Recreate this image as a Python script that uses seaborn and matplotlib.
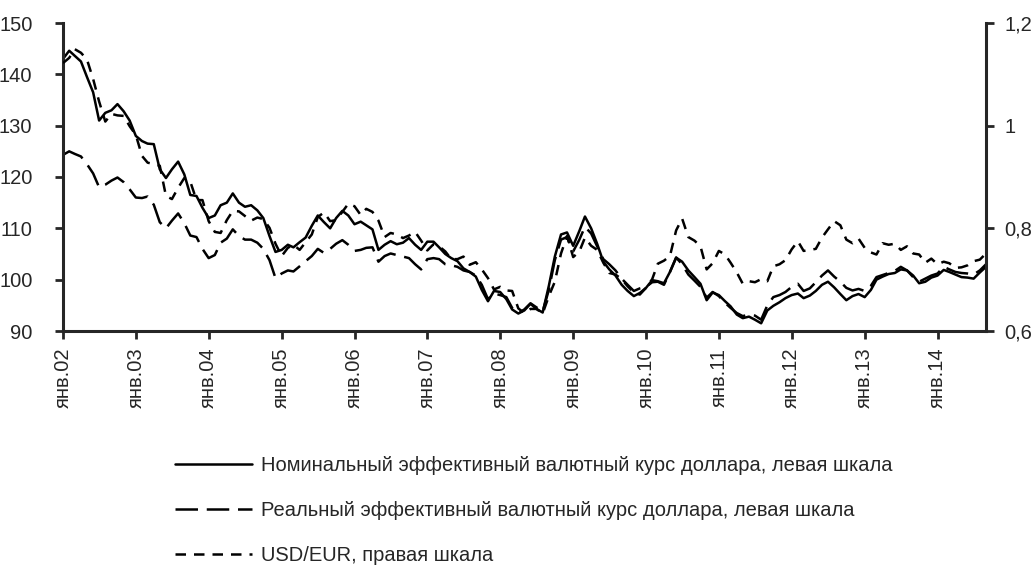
import pandas as pd
import matplotlib
matplotlib.use("Agg")
import matplotlib.pyplot as plt
import seaborn as sns

# monthly points (first point sits on the "янв.02" tick)
months = pd.date_range("2002-01-01", periods=153, freq="MS")

nominal = [
    143.0, 144.6, 143.6, 142.5, 139.5, 136.5, 131.0, 132.5, 133.0, 134.2, 132.8, 131.0,
    128.0, 127.0, 126.5, 126.4, 121.5, 119.8, 121.5, 123.0, 120.5, 116.5, 116.3, 114.0,
    112.0, 112.5, 114.5, 115.0, 116.8, 115.0, 114.2, 114.5, 113.5, 112.0, 108.5, 105.4,
    105.8, 106.8, 106.3, 107.3, 108.2, 110.5, 112.5, 111.2, 110.0, 112.0, 113.4, 112.5,
    110.8, 111.3, 110.6, 109.8, 105.8, 106.8, 107.5, 106.9, 107.2, 108.1, 106.8, 105.8,
    107.4, 107.4, 106.3, 105.0, 104.2, 103.6, 102.2, 101.5, 100.6, 98.0, 95.8, 97.8,
    97.6, 96.2, 94.2, 93.4, 94.0, 95.3, 94.3, 93.6, 98.8, 104.5, 108.8, 109.2,
    106.6, 109.5, 112.3, 110.0, 107.0, 103.5, 102.0, 100.8, 99.0, 97.8, 96.8, 97.4,
    98.4, 99.9, 99.7, 99.3, 101.5, 104.3, 103.5, 101.8, 100.5, 99.2, 96.0, 97.5,
    97.0, 95.8, 94.8, 93.2, 92.5, 92.8, 92.2, 91.5, 94.0, 94.9, 95.6, 96.4,
    97.0, 97.3, 96.4, 96.9, 97.8, 99.0, 99.6, 98.5, 97.2, 96.0, 96.8, 97.2,
    96.6, 98.0, 100.0, 100.6, 101.1, 101.3, 102.0, 101.8, 100.8, 99.3, 99.6, 100.4,
    100.8, 101.9, 101.5, 101.0, 100.5, 100.4, 100.2, 101.4, 102.5,
]

real = [
    124.3, 125.0, 124.5, 124.0, 122.5, 120.7, 118.0, 118.5, 119.3, 119.9, 119.0, 117.6,
    116.0, 115.9, 116.2, 114.6, 111.2, 110.0, 111.5, 112.9, 111.0, 108.6, 108.3, 106.0,
    104.2, 104.8, 107.2, 108.0, 109.8, 108.5, 107.8, 107.8, 107.2, 106.0, 103.8, 100.3,
    101.2, 101.8, 101.6, 102.6, 103.6, 104.6, 106.0, 105.2, 106.0, 107.0, 107.7, 106.8,
    105.6, 105.8, 106.2, 106.3, 103.5, 104.6, 105.1, 104.8, 104.5, 104.2, 103.0, 102.0,
    104.0, 104.2, 104.0, 103.0, 102.8, 102.5, 101.8, 101.5, 100.8, 99.0, 96.2, 97.3,
    97.0, 96.6, 94.5, 93.5, 94.2, 95.4, 94.6, 93.8, 98.0, 103.8, 107.8, 108.3,
    105.5, 107.8, 110.3, 109.0, 106.5, 104.0, 103.0, 101.8, 100.2, 99.0, 97.8, 98.3,
    98.6, 99.5, 99.6, 99.0, 101.5, 104.3, 103.0, 101.0, 99.8, 98.6, 96.5, 97.6,
    96.8, 95.5, 94.5, 93.5, 92.9, 93.2, 93.0, 92.2, 95.0, 96.6, 97.0, 97.6,
    98.6, 99.2, 97.8, 98.3, 99.5, 100.8, 101.8, 100.6, 99.6, 98.4, 97.9, 98.2,
    97.8, 98.8, 100.5, 100.9, 101.3, 101.7, 102.5, 101.8, 100.5, 99.6, 100.2, 100.8,
    101.2, 102.5, 102.0, 101.5, 101.3, 101.2, 101.0, 101.8, 103.0,
]

usd_eur = [
    1.122, 1.132, 1.149, 1.142, 1.129, 1.091, 1.047, 1.008, 1.023, 1.020, 1.019, 0.999,
    0.982, 0.941, 0.928, 0.925, 0.922, 0.863, 0.857, 0.879, 0.898, 0.891, 0.855, 0.855,
    0.814, 0.793, 0.791, 0.816, 0.834, 0.833, 0.824, 0.815, 0.821, 0.818, 0.801, 0.770,
    0.746, 0.762, 0.768, 0.758, 0.773, 0.788, 0.822, 0.831, 0.814, 0.816, 0.832, 0.848,
    0.843, 0.826, 0.838, 0.832, 0.815, 0.783, 0.791, 0.788, 0.781, 0.786, 0.793, 0.776,
    0.757, 0.769, 0.765, 0.755, 0.740, 0.740, 0.745, 0.729, 0.734, 0.720, 0.703, 0.681,
    0.686, 0.679, 0.678, 0.644, 0.635, 0.643, 0.643, 0.634, 0.668, 0.696, 0.751, 0.785,
    0.744, 0.755, 0.782, 0.766, 0.758, 0.733, 0.713, 0.710, 0.701, 0.687, 0.675, 0.671,
    0.684, 0.701, 0.731, 0.737, 0.746, 0.796, 0.819, 0.783, 0.776, 0.765, 0.720, 0.732,
    0.756, 0.749, 0.733, 0.714, 0.692, 0.697, 0.695, 0.701, 0.697, 0.726, 0.730, 0.738,
    0.759, 0.775, 0.756, 0.758, 0.760, 0.782, 0.798, 0.814, 0.806, 0.778, 0.771, 0.780,
    0.762, 0.753, 0.749, 0.771, 0.768, 0.770, 0.758, 0.765, 0.751, 0.749, 0.733, 0.741,
    0.730, 0.735, 0.732, 0.723, 0.724, 0.728, 0.736, 0.739, 0.751,
]

tick_dates = pd.date_range("2002-01-01", "2014-01-01", freq="YS")
tick_labels = ["янв.02", "янв.03", "янв.04", "янв.05", "янв.06", "янв.07", "янв.08",
               "янв.09", "янв.10", "янв.11", "янв.12", "янв.13", "янв.14"]
left_ticks = [90, 100, 110, 120, 130, 140, 150]
right_ticks = [0.6, 0.8, 1.0, 1.2]
right_labels = ["0,6", "0,8", "1", "1,2"]

names = [
    "Номинальный эффективный валютный курс доллара, левая шкала",
    "Реальный эффективный валютный курс доллара, левая шкала",
    "USD/EUR, правая шкала",
]

sns.set_style("ticks")
plt.rcParams["font.family"] = ["Liberation Sans Narrow", "Liberation Sans", "DejaVu Sans"]

W, H = 1035, 569
fig = plt.figure(figsize=(W / 100, H / 100), dpi=100)
ax = fig.add_axes([63 / W, 1 - 331 / H, (986 - 63) / W, (331 - 23) / H])
ax2 = ax.twinx()

lw = 1.8
sns.lineplot(x=months, y=nominal, ax=ax, color="black", linewidth=lw, legend=False)
sns.lineplot(x=months, y=real, ax=ax, color="black", linewidth=lw, legend=False)
sns.lineplot(x=months, y=usd_eur, ax=ax2, color="black", linewidth=lw, legend=False)
line_nom, line_real = ax.lines[0], ax.lines[1]
line_usd = ax2.lines[0]
line_real.set_dashes((9, 3.5))
line_usd.set_dashes((4.2, 3.2))

ax.set_xlim(months[0], months[-1])
ax.set_ylim(90, 150)
ax.set_yticks(left_ticks)
ax.set_xticks(tick_dates)
ax.set_xticklabels(tick_labels, rotation=90)
ax2.set_ylim(0.6, 1.2)
ax2.set_yticks(right_ticks)
ax2.set_yticklabels(right_labels)
ax.set_xlabel("")
ax.set_ylabel("")

for a in (ax, ax2):
    for s in a.spines.values():
        s.set_linewidth(2.2)
    a.spines["top"].set_visible(False)
    a.tick_params(direction="out", length=6, width=2, labelsize=14.5)
ax.tick_params(axis="y", pad=16)
ax.tick_params(axis="x", pad=6)
ax2.tick_params(axis="y", pad=7)
ax.spines["right"].set_visible(False)
ax2.spines["left"].set_visible(False)
ax2.spines["bottom"].set_visible(False)

fig.legend([line_nom, line_real, line_usd], names, loc="upper left",
           bbox_to_anchor=(175 / W, 1 - 456 / H),
           frameon=False, fontsize=14.5, handlelength=3.8, handletextpad=0.45,
           labelspacing=1.3, borderpad=0, borderaxespad=0)

fig.savefig("out.png", dpi=100)
